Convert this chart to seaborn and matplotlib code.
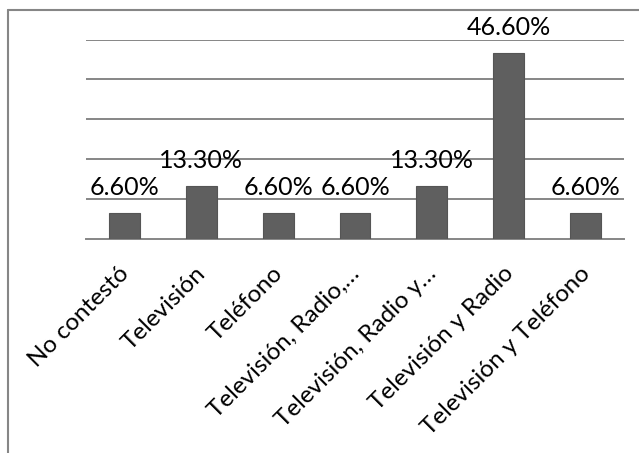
import matplotlib
matplotlib.use("Agg")
import matplotlib.pyplot as plt
import matplotlib.transforms as mtransforms
import seaborn as sns
import pandas as pd
import numpy as np
from matplotlib.lines import Line2D

# data
categorias = ["No contestó", "Televisión", "Teléfono", "Televisión, Radio,…",
              "Televisión, Radio y…", "Televisión y Radio", "Televisión y Teléfono"]
porcentajes = [6.6, 13.3, 6.6, 6.6, 13.3, 46.6, 6.6]
etiquetas = ["6.60%", "13.30%", "6.60%", "6.60%", "13.30%", "46.60%", "6.60%"]

sns.set_style("white")
plt.rcParams['font.family'] = ['Lato', 'DejaVu Sans']

df = pd.DataFrame({"cat": categorias, "val": porcentajes})

fig = plt.figure(figsize=(6.39, 4.53), dpi=100)
ax = fig.add_axes([86/639, 1-239/453, (624-86)/639, (239-39.5)/453])

gris = "#868686"
sns.barplot(data=df, x="cat", y="val", color="#5f5f5f", width=0.4,
            saturation=1, edgecolor="#555555", linewidth=0.8, ax=ax, zorder=3)

ax.set_ylim(0, 50)
ax.set_xlim(-0.5, len(categorias)-0.5)
ax.set_yticks([10, 20, 30, 40, 50])
ax.set_yticklabels([])
ax.tick_params(axis="y", length=0)
ax.grid(axis="y", color=gris, linewidth=1.4, zorder=0)
ax.grid(axis="x", visible=False)
for s in ["left", "right", "top"]:
    ax.spines[s].set_visible(False)
ax.spines["bottom"].set_color(gris)
ax.spines["bottom"].set_linewidth(1.4)

# category boundary ticks
ax.set_xticks(np.arange(-0.5, len(categorias), 1.0), minor=True)
ax.tick_params(axis="x", which="minor", length=6, width=1.2, color=gris, direction="out")
ax.tick_params(axis="x", which="major", length=0, pad=17)
ax.set_xticklabels(categorias, rotation=45, ha="right", rotation_mode="anchor",
                   fontsize=17.5, color="#000000")
shift = mtransforms.ScaledTranslation(-6/100, 0, fig.dpi_scale_trans)
for lab in ax.get_xticklabels():
    lab.set_transform(lab.get_transform() + shift)
ax.set_xlabel("")
ax.set_ylabel("")

for i, (v, t) in enumerate(zip(porcentajes, etiquetas)):
    ax.annotate(t, (i, v), xytext=(0, 10), textcoords="offset points",
                ha="center", va="bottom", fontsize=18, color="#000000")

# outer chart border (left and top edges visible)
fig.add_artist(Line2D([8/639, 8/639], [0, 1-10/453], transform=fig.transFigure,
                      color=gris, linewidth=1.5))
fig.add_artist(Line2D([8/639, 1], [1-10/453, 1-10/453], transform=fig.transFigure,
                      color=gris, linewidth=1.5))

fig.savefig("out.png", dpi=100)
